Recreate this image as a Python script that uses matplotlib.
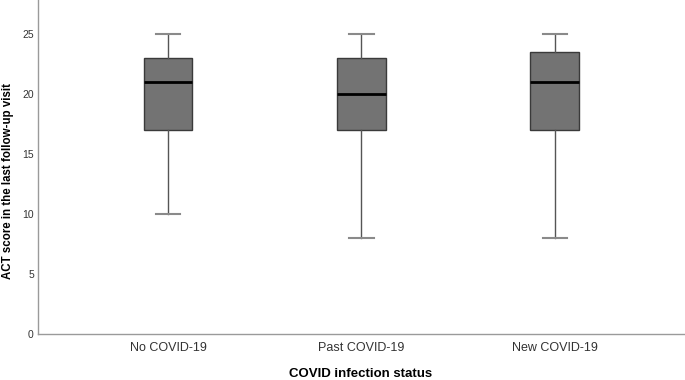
import matplotlib.pyplot as plt

plt.rcParams['font.family'] = ['Liberation Sans', 'DejaVu Sans']

# five-number summaries
groups = ["No COVID-19", "Past COVID-19", "New COVID-19"]
whisker_low = [10, 8, 8]
q1 = [17, 17, 17]
median = [21, 20, 21]
q3 = [23, 23, 23.5]
whisker_high = [25, 25, 25]

stats = []
for i, g in enumerate(groups):
    stats.append({
        "label": g,
        "whislo": whisker_low[i],
        "q1": q1[i],
        "med": median[i],
        "q3": q3[i],
        "whishi": whisker_high[i],
        "fliers": [],
    })

fig = plt.figure(figsize=(6.85, 3.8), dpi=100)
ax = fig.add_axes([38 / 685, 46 / 380, 646 / 685, 334 / 380])

ax.bxp(stats, positions=[1, 2, 3], widths=0.253, patch_artist=True,
       showfliers=False,
       boxprops=dict(facecolor="#737373", edgecolor="#3a3a3a", linewidth=1.0),
       medianprops=dict(color="black", linewidth=2.0),
       whiskerprops=dict(color="#555555", linewidth=1.0),
       capprops=dict(color="#8a8a8a", linewidth=1.5),
       capwidths=0.125)

ax.set_xlim(0.328, 3.667)
ax.set_ylim(0, 27.83)
ax.set_yticks([0, 5, 10, 15, 20, 25])
ax.tick_params(axis="y", length=0, labelsize=7.5, labelcolor="#333333", pad=3)
ax.tick_params(axis="x", length=0, labelsize=9, labelcolor="#333333", pad=6)

for s in ["top", "right"]:
    ax.spines[s].set_visible(False)
for s in ["left", "bottom"]:
    ax.spines[s].set_color("#9a9a9a")
    ax.spines[s].set_linewidth(1.0)

# y label sits a bit below the axes centre in the reference
fig.text(8 / 685, 1 - 181 / 380, "ACT score in the last follow-up visit",
         rotation=90, ha="center", va="center", fontsize=8.3,
         fontweight="bold")
ax.set_xlabel("COVID infection status", fontsize=9.5, fontweight="bold",
              labelpad=10)

fig.savefig("out.png", dpi=100)
